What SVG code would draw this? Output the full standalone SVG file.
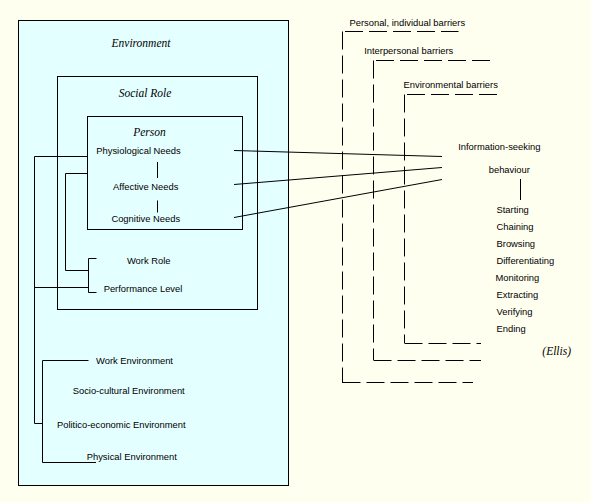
<svg xmlns="http://www.w3.org/2000/svg" width="591" height="503" viewBox="0 0 591 503">
<style>
.box{fill:#E4FFFF;stroke:#000;stroke-width:1}
.ln{fill:none;stroke:#000;stroke-width:1}
.dash{fill:none;stroke:#000;stroke-width:1;stroke-dasharray:18 6}
.t{font-family:"Liberation Sans",Arial,sans-serif;font-size:9.4px;fill:#000}
.m{text-anchor:middle}
.h{font-family:"Liberation Serif","Times New Roman",serif;font-style:italic;font-size:11.5px;fill:#000;text-anchor:middle}
</style>
<rect width="591" height="503" fill="#FFFFF0"/>
<g id="environment">
<rect class="box" x="18.5" y="20.5" width="270" height="465"/>
<text class="h" x="141" y="47">Environment</text>
</g>
<g id="social-role">
<rect class="box" x="57.5" y="76.5" width="200" height="233"/>
<text class="h" x="145" y="97">Social Role</text>
</g>
<g id="person">
<rect class="box" x="87.5" y="116.5" width="155" height="113"/>
<text class="h" x="149.5" y="136">Person</text>
</g>
<g id="physiological-needs"><text class="t m" x="138.5" y="154">Physiological Needs</text></g>
<g id="affective-needs"><text class="t m" x="145.7" y="190">Affective Needs</text></g>
<g id="cognitive-needs"><text class="t m" x="145.8" y="222">Cognitive Needs</text></g>
<g id="work-role"><text class="t m" x="148.7" y="264">Work Role</text></g>
<g id="performance-level"><text class="t m" x="143" y="292">Performance Level</text></g>
<g id="work-environment"><text class="t m" x="134.5" y="364">Work Environment</text></g>
<g id="socio-cultural-environment"><text class="t m" x="128.7" y="394">Socio-cultural Environment</text></g>
<g id="politico-economic-environment"><text class="t m" x="121.3" y="428">Politico-economic Environment</text></g>
<g id="physical-environment"><text class="t m" x="131.8" y="460">Physical Environment</text></g>
<g id="personal-barriers"><text class="t m" x="407.3" y="26">Personal, individual barriers</text></g>
<g id="interpersonal-barriers"><text class="t m" x="408.7" y="54">Interpersonal barriers</text></g>
<g id="environmental-barriers"><text class="t m" x="450.7" y="88">Environmental barriers</text></g>
<g id="information-seeking">
<text class="t m" x="499.3" y="150">Information-seeking</text>
<text class="t m" x="509.3" y="173">behaviour</text>
</g>
<g id="ellis-stages">
<text class="t" x="496.5" y="213">Starting</text>
<text class="t" x="496.5" y="230">Chaining</text>
<text class="t" x="496.5" y="247">Browsing</text>
<text class="t" x="496.5" y="264">Differentiating</text>
<text class="t" x="495.5" y="281">Monitoring</text>
<text class="t" x="496.5" y="298">Extracting</text>
<text class="t" x="496.5" y="315">Verifying</text>
<text class="t" x="496.5" y="332">Ending</text>
</g>
<g id="ellis"><text class="h" x="556.7" y="355">(Ellis)</text></g>
<g id="connectors">
<path class="ln" d="M157.5,162 V178 M157.5,200.5 V212.5"/>
<path class="ln" d="M87.5,156.5 H34.5 V423.5 H42.5"/>
<path class="ln" d="M34.5,287.5 H88.5"/>
<path class="ln" d="M87.5,173.5 H65.5 V270.5 H88.5"/>
<path class="ln" d="M96.5,258.5 H88.5 V292.5 H96.5"/>
<path class="ln" d="M88.5,360.5 H42.5 V462.5 H96"/>
<path class="ln" d="M234,150.5 L251.5,151 L442,156.5"/>
<path class="ln" d="M234,184.5 L442,167.5"/>
<path class="ln" d="M234,217.5 L442,179.5"/>
<path class="ln" d="M520.5,179 V200"/>
<path class="dash" d="M342.5,31.5 V383"/>
<path class="dash" d="M345,31.5 H458.5"/>
<path class="dash" d="M342.5,382.5 H473"/>
<path class="dash" d="M373.5,60.5 V360"/>
<path class="dash" d="M376,60.5 H490"/>
<path class="dash" d="M373.5,360.5 H481"/>
<path class="dash" d="M404.5,94.5 V343"/>
<path class="dash" d="M407,94.5 H497"/>
<path class="dash" d="M404.5,343.5 H481"/>
</g>
</svg>
